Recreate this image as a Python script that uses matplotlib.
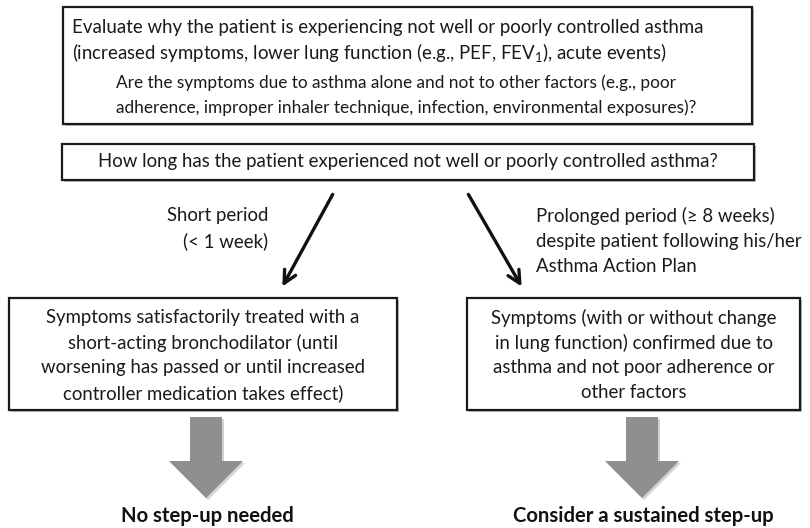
import matplotlib

matplotlib.use("Agg")
import matplotlib.pyplot as plt
from matplotlib.patches import Rectangle, Polygon

# text content of the flowchart
top_lines = [
    "Evaluate why the patient is experiencing not well or poorly controlled asthma",
    "(increased symptoms, lower lung function (e.g., PEF, FEV$_1$), acute events)",
]
top_sub_lines = [
    "Are the symptoms due to asthma alone and not to other factors (e.g., poor",
    "adherence, improper inhaler technique, infection, environmental exposures)?",
]
question = "How long has the patient experienced not well or poorly controlled asthma?"
short_label = ["Short period", "(< 1 week)"]
long_label = [
    "Prolonged period (\u2265 8 weeks)",
    "despite patient following his/her",
    "Asthma Action Plan",
]
left_box = [
    "Symptoms satisfactorily treated with a",
    "short-acting bronchodilator (until",
    "worsening has passed or until increased",
    "controller medication takes effect)",
]
right_box = [
    "Symptoms (with or without change",
    "in lung function) confirmed due to",
    "asthma and not poor adherence or",
    "other factors",
]
outcomes = ["No step-up needed", "Consider a sustained step-up"]

FONT = "Lato"
plt.rcParams["font.family"] = [FONT, "DejaVu Sans"]
plt.rcParams["mathtext.fontset"] = "custom"
plt.rcParams["mathtext.rm"] = FONT
plt.rcParams["mathtext.it"] = FONT
FS = 13.4
LH = 25

fig = plt.figure(figsize=(8.1, 5.28), dpi=100)
ax = fig.add_axes([0, 0, 1, 1])
ax.set_xlim(0, 810)
ax.set_ylim(528, 0)
ax.axis("off")


def box(x0, y0, x1, y1):
    # light shadow then the frame
    ax.add_patch(Rectangle((x0 + 2, y0 + 2), x1 - x0, y1 - y0, fc="#bbbbbb", ec="none", zorder=1))
    ax.add_patch(Rectangle((x0, y0), x1 - x0, y1 - y0, fc="white", ec="#1a1a1a", lw=1.6, zorder=2))


def lines(txt, x, y0, ha="center", fs=FS):
    for i, t in enumerate(txt):
        ax.text(x, y0 + i * LH, t, ha=ha, va="center", fontsize=fs, color="#1a1a1a", zorder=3)


box(63, 7, 752, 124)
lines(top_lines, 72, 27, ha="left")
lines(top_sub_lines, 116, 83, ha="left", fs=FS - 1)

box(62, 144, 754, 180)
lines([question], 408, 162)

# thin black arrows
for (x0, y0), (x1, y1) in [((334, 192), (281, 289)), ((467, 192), (523, 289))]:
    ax.annotate("", xy=(x1, y1), xytext=(x0, y0),
                arrowprops=dict(arrowstyle="->,head_length=0.9,head_width=0.45",
                                lw=2.4, color="#111111"))

lines(short_label, 268, 216, ha="right")
lines(long_label, 536, 216, ha="left")

box(9, 298, 397, 410)
lines(left_box, 203, 318)
box(467, 298, 800, 410)
lines(right_box, 634, 318)

# gray block arrows
for cx in (206, 642):
    pts = [(cx - 16, 417), (cx + 16, 417), (cx + 16, 461), (cx + 37, 461),
           (cx, 498), (cx - 37, 461), (cx - 16, 461)]
    ax.add_patch(Polygon([(px + 2, py + 2) for px, py in pts], fc="#d2d2d2", ec="none", zorder=1))
    ax.add_patch(Polygon(pts, fc="#8e8f91", ec="none", zorder=2))

for cx, t in zip((207, 643), outcomes):
    ax.text(cx, 516, t, ha="center", va="center", fontsize=FS + 1.2,
            fontweight="bold", color="#111111")

fig.savefig("out.png", dpi=100)
